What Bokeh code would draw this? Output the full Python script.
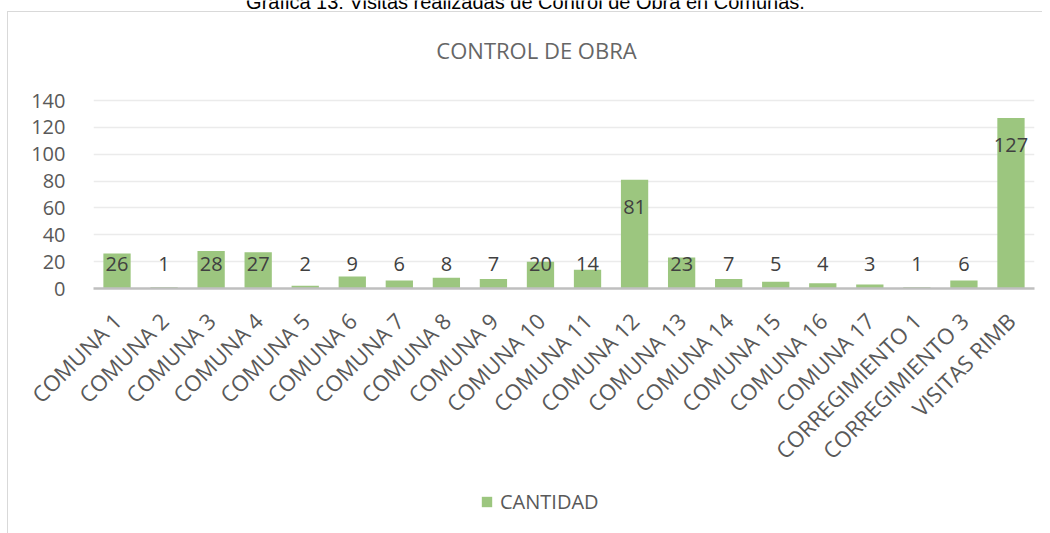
import math
from bokeh.plotting import figure
from bokeh.layouts import column
from bokeh.models import (ColumnDataSource, FactorRange, Range1d, FixedTicker,
                          Label, Legend, LegendItem)
from bokeh.core.properties import value
from bokeh.embed import file_html
from bokeh.resources import INLINE

categories = ["COMUNA 1", "COMUNA 2", "COMUNA 3", "COMUNA 4", "COMUNA 5",
              "COMUNA 6", "COMUNA 7", "COMUNA 8", "COMUNA 9", "COMUNA 10",
              "COMUNA 11", "COMUNA 12", "COMUNA 13", "COMUNA 14", "COMUNA 15",
              "COMUNA 16", "COMUNA 17", "CORREGIMIENTO 1", "CORREGIMIENTO 3",
              "VISITAS RIMB"]
cantidad = [26, 1, 28, 27, 2, 9, 6, 8, 7, 20, 14, 81, 23, 7, 5, 4, 3, 1, 6, 127]
y_ticks = [0, 20, 40, 60, 80, 100, 120, 140]

caption = "Gráfica 13: Visitas realizadas de Control de Obra en Comunas."
chart_title = "CONTROL DE OBRA"
series_name = "CANTIDAD"

FONT = "Open Sans"
GREEN = "#9cc67f"
BORDER = "#d9d9d9"

# page layout (pixels)
W, H = 1042, 533
LEGEND_H = 53
MAIN_H = H - LEGEND_H
LEFT, RIGHT = 93, 1034          # plot area left/right
Y_TOP_PX, Y_ZERO_PX = 100, 288  # pixel rows of the 140 and 0 gridlines
PPU = (Y_ZERO_PX - Y_TOP_PX) / y_ticks[-1]
Y_END = y_ticks[-1] + Y_TOP_PX / PPU
CAT_PX = (RIGHT - LEFT) / len(categories)


def px_x(px):   # page x pixel -> synthetic categorical coordinate
    return (px - LEFT) / CAT_PX


def px_y(px):   # page y pixel -> data y
    return (Y_ZERO_PX - px) / PPU


label_y = [max(v - 20.5, 18.0) for v in cantidad]
src = ColumnDataSource(dict(x=categories, top=cantidad,
                            lbl=[str(v) for v in cantidad], ly=label_y))

p = figure(frame_width=RIGHT - LEFT, frame_height=Y_ZERO_PX,
           x_range=FactorRange(factors=categories, range_padding=0),
           y_range=Range1d(0, Y_END), output_backend="svg", toolbar_location=None,
           title=None, min_border_left=LEFT, min_border_right=W - RIGHT,
           min_border_top=0, min_border_bottom=MAIN_H - Y_ZERO_PX)
p.outline_line_color = None
p.background_fill_color = None
p.border_fill_color = None
p.styles = {
    "background-color": "white",
    "background-image": f"linear-gradient({BORDER}, {BORDER}), linear-gradient({BORDER}, {BORDER})",
    "background-size": "1px 100%, 100% 1px",
    "background-position": "7px 11px, 7px 11px",
    "background-repeat": "no-repeat",
}

p.vbar(x="x", top="top", width=0.58, source=src, fill_color=GREEN, line_color=None)
p.text(x="x", y="ly", text="lbl", source=src, text_align="center",
       text_baseline="middle", text_font=value(FONT), text_font_size="20px",
       text_color="#404040")

p.xgrid.grid_line_color = None
p.ygrid.grid_line_color = "#ebebeb"
p.ygrid.grid_line_width = 1.3
p.yaxis.ticker = FixedTicker(ticks=y_ticks)
p.yaxis.axis_line_color = None
p.yaxis.major_tick_line_color = None
p.yaxis.minor_tick_line_color = None
p.yaxis.major_label_standoff = 22
p.yaxis.major_label_text_font = FONT
p.yaxis.major_label_text_font_size = "20px"
p.yaxis.major_label_text_color = "#595959"

p.xaxis.axis_line_color = "#bfbfbf"
p.xaxis.axis_line_width = 2.5
p.xaxis.major_tick_line_color = None
p.xaxis.minor_tick_line_color = None
p.xaxis.major_label_orientation = math.pi / 4
p.xaxis.major_label_standoff = 22
p.xaxis.major_label_text_font = FONT
p.xaxis.major_label_text_font_size = "22px"
p.xaxis.major_label_text_color = "#595959"

p.add_layout(Label(x=px_x(525), y=px_y(1), text=caption,
                   text_align="center", text_baseline="alphabetic",
                   text_font="Liberation Sans", text_font_size="20px",
                   text_color="#000000"))
p.add_layout(Label(x=px_x(536), y=px_y(49), text=chart_title,
                   text_align="center", text_baseline="middle",
                   text_font=FONT, text_font_size="22px",
                   text_color="#666666"))

# legend strip below the chart
lg = figure(width=W, height=LEGEND_H, x_range=Range1d(0, 1), y_range=Range1d(0, 1),
            output_backend="svg", toolbar_location=None, title=None,
            min_border_left=0, min_border_right=0, min_border_top=0, min_border_bottom=0)
lg.axis.visible = False
lg.grid.grid_line_color = None
lg.outline_line_color = None
lg.background_fill_color = None
lg.border_fill_color = None
lg.styles = {
    "background-color": "white",
    "background-image": f"linear-gradient({BORDER}, {BORDER})",
    "background-size": "1px 100%",
    "background-position": "7px 0px",
    "background-repeat": "no-repeat",
}
# zero-height placeholder bar, used only to give the legend its swatch style
swatch = lg.vbar(x=[-1], top=[0], bottom=[0], width=0.5, fill_color=GREEN, line_color=None)
legend = Legend(items=[LegendItem(label=series_name, renderers=[swatch])],
                location=(387, 18), orientation="horizontal",
                padding=0, margin=0, spacing=0, border_line_color=None,
                background_fill_alpha=0, glyph_width=13, glyph_height=13,
                label_standoff=7, label_text_font=FONT,
                label_text_font_size="20px", label_text_color="#595959")
lg.add_layout(legend)

page = column(p, lg, spacing=0)
open("out.html", "w").write(file_html(page, INLINE))
